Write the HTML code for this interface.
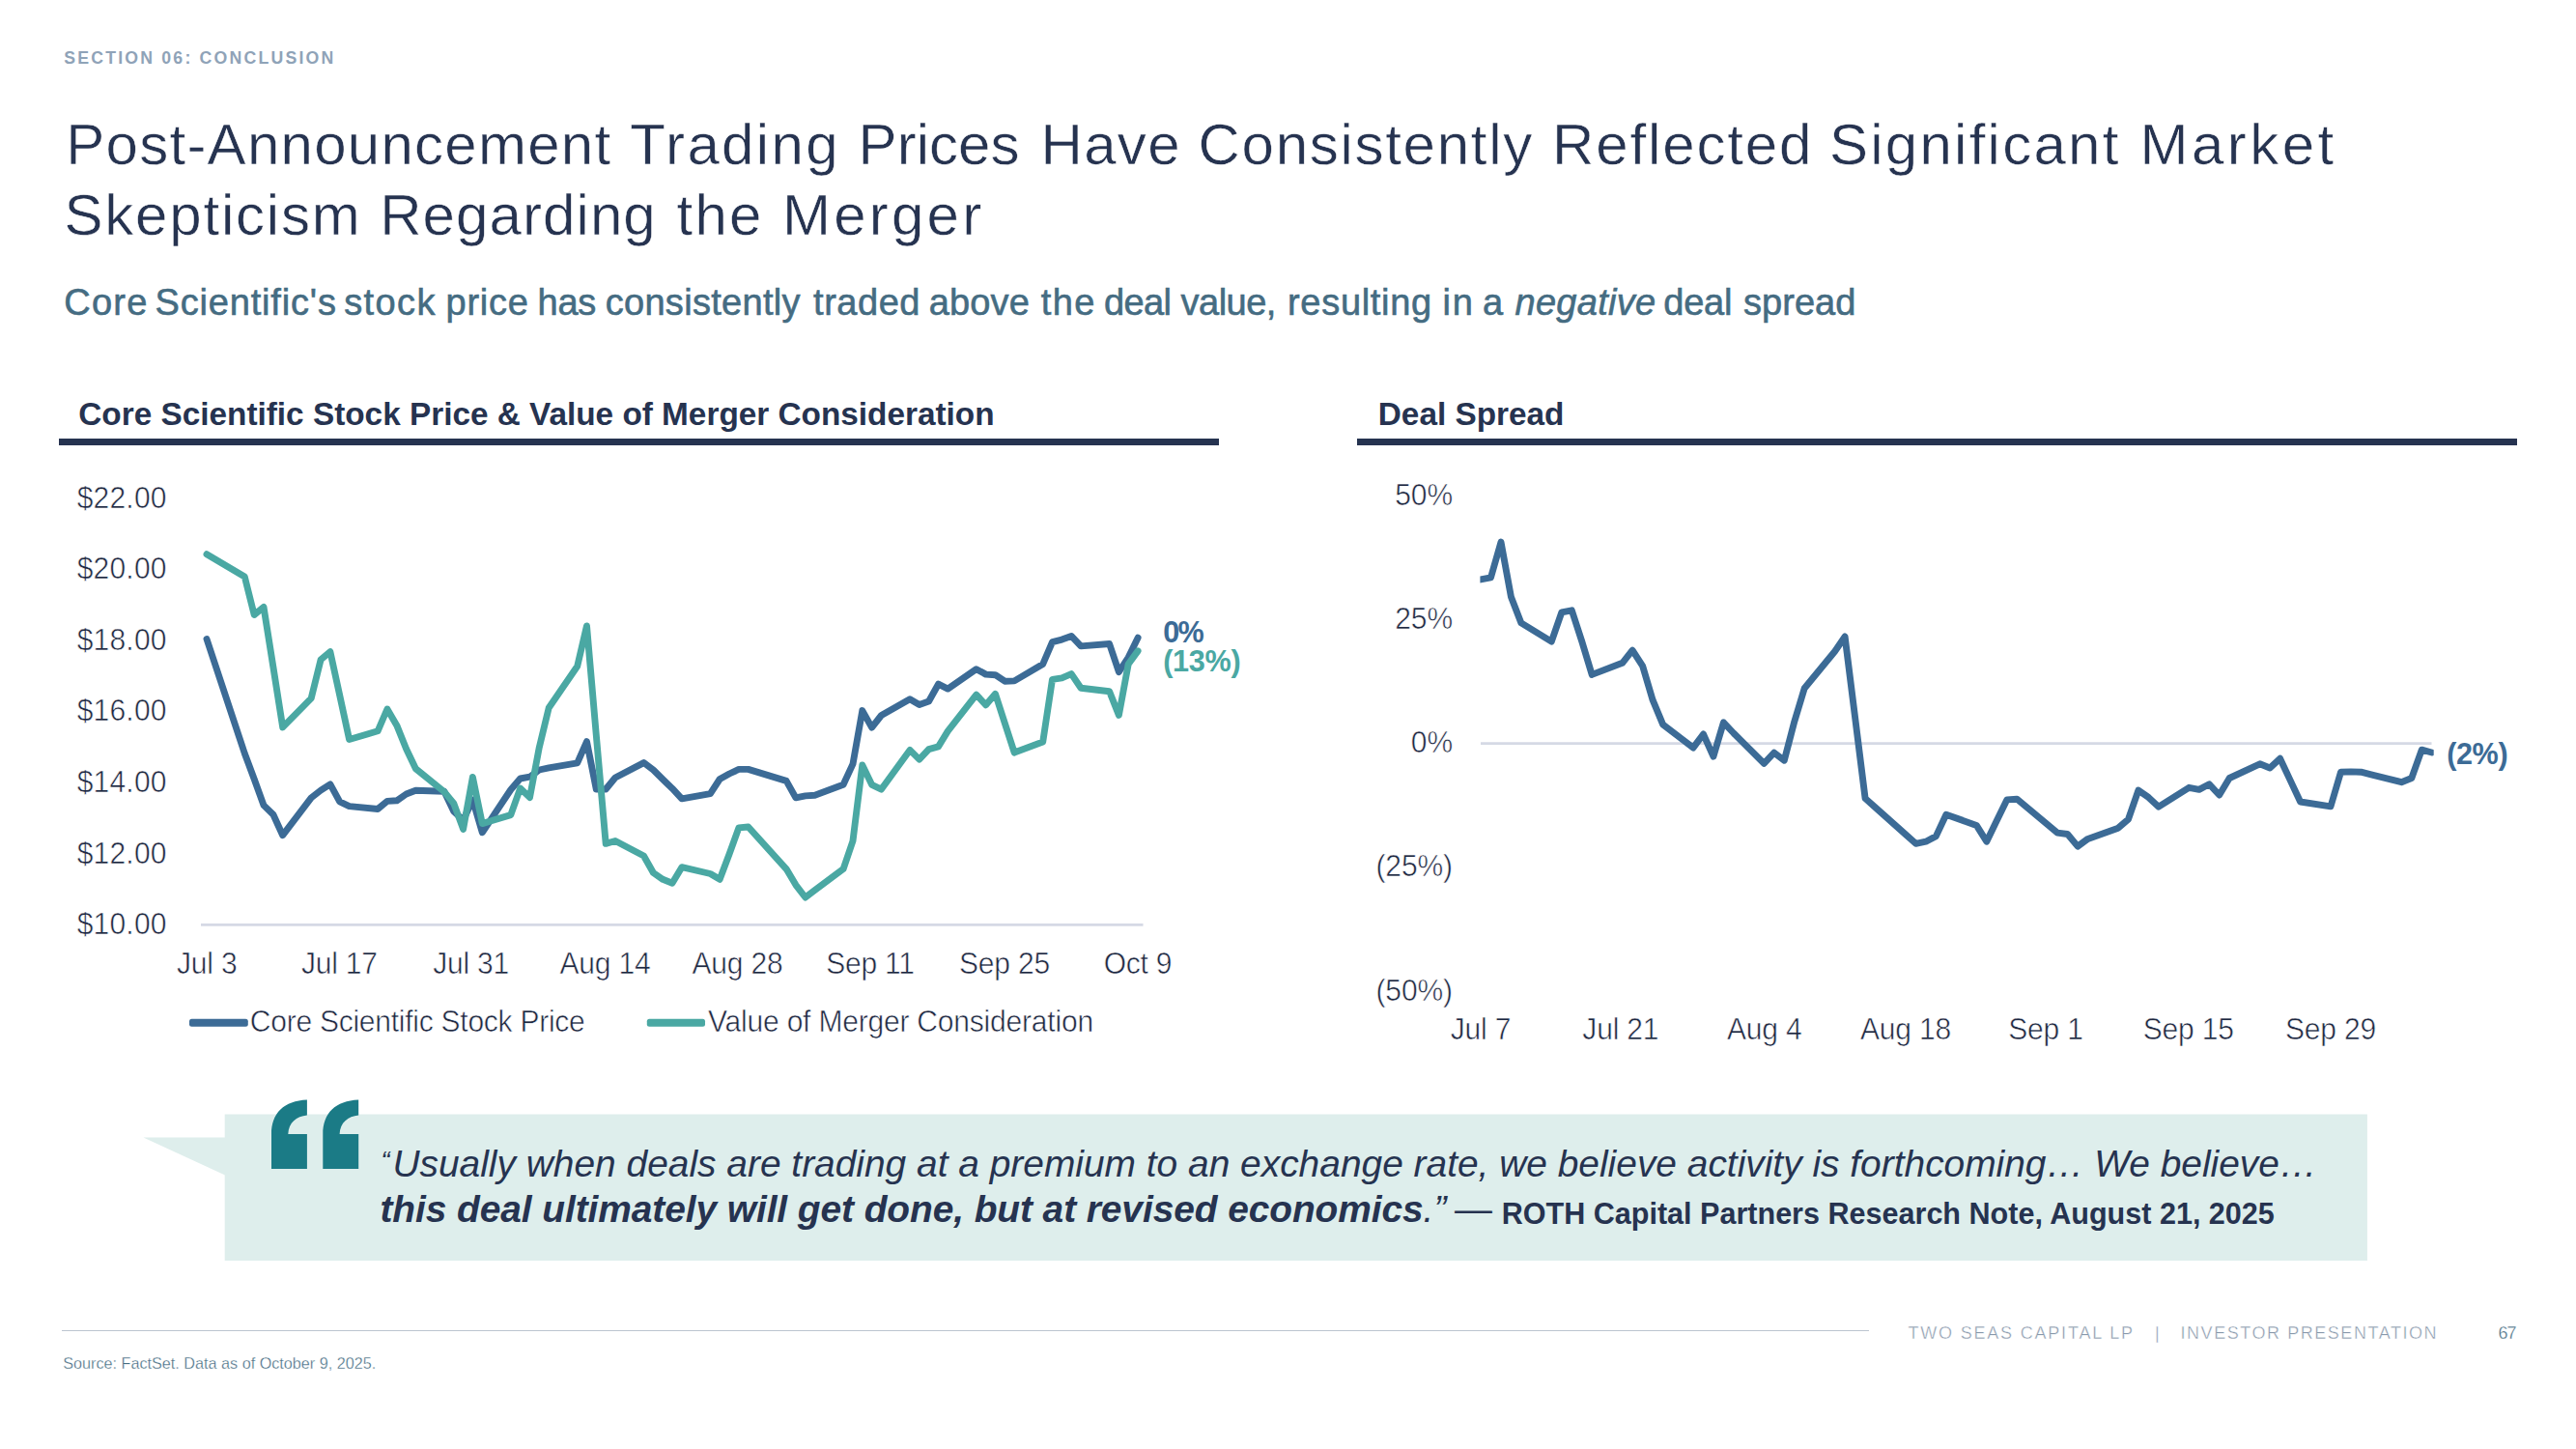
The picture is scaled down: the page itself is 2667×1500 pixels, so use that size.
<!DOCTYPE html><html lang="en"><head><meta charset="utf-8"><title>Slide</title><style>
html,body{margin:0;padding:0;background:#fff;}
html{width:2667px;height:1500px;overflow:hidden;}
body{width:2667px;height:1500px;position:relative;overflow:hidden;font-family:"Liberation Sans",sans-serif;color:#263350;}
.t{position:absolute;white-space:nowrap;line-height:1;}
.ax{color:#1e2841;-webkit-text-stroke:0.55px #fff;}
</style></head><body>
<div class="t " style="left:66.20px;top:51.72px;font-size:17.7px;font-weight:bold;letter-spacing:2.2px;color:#8fa3b8;">SECTION 06: CONCLUSION</div>
<div class="t " style="left:68.30px;top:120.21px;font-size:60px;letter-spacing:1.256px;-webkit-text-stroke:0.5px #fff;">Post-Announcement</div>
<div class="t " style="left:652.30px;top:120.21px;font-size:60px;letter-spacing:2.35px;-webkit-text-stroke:0.5px #fff;">Trading</div>
<div class="t " style="left:888.60px;top:120.21px;font-size:60px;letter-spacing:0.04px;-webkit-text-stroke:0.5px #fff;">Prices</div>
<div class="t " style="left:1077.50px;top:120.21px;font-size:60px;letter-spacing:1.333px;-webkit-text-stroke:0.5px #fff;">Have</div>
<div class="t " style="left:1240.50px;top:120.21px;font-size:60px;letter-spacing:1.718px;-webkit-text-stroke:0.5px #fff;">Consistently</div>
<div class="t " style="left:1607.00px;top:120.21px;font-size:60px;letter-spacing:1.875px;-webkit-text-stroke:0.5px #fff;">Reflected</div>
<div class="t " style="left:1893.90px;top:120.21px;font-size:60px;letter-spacing:2.27px;-webkit-text-stroke:0.5px #fff;">Significant</div>
<div class="t " style="left:2215.50px;top:120.21px;font-size:60px;letter-spacing:3.48px;-webkit-text-stroke:0.5px #fff;">Market</div>
<div class="t " style="left:66.50px;top:192.51px;font-size:60px;letter-spacing:1.8px;-webkit-text-stroke:0.5px #fff;">Skepticism</div>
<div class="t " style="left:393.20px;top:192.51px;font-size:60px;letter-spacing:1.087px;-webkit-text-stroke:0.5px #fff;">Regarding</div>
<div class="t " style="left:700.50px;top:192.51px;font-size:60px;letter-spacing:2.25px;-webkit-text-stroke:0.5px #fff;">the</div>
<div class="t " style="left:810.00px;top:192.51px;font-size:60px;letter-spacing:3.22px;-webkit-text-stroke:0.5px #fff;">Merger</div>
<div class="t " style="left:66.30px;top:294.13px;font-size:38px;letter-spacing:1.233px;color:#456c82;-webkit-text-stroke:0.6px #456c82;">Core</div>
<div class="t " style="left:160.50px;top:294.13px;font-size:38px;letter-spacing:0.827px;color:#456c82;-webkit-text-stroke:0.6px #456c82;">Scientific's</div>
<div class="t " style="left:356.20px;top:294.13px;font-size:38px;letter-spacing:1.375px;color:#456c82;-webkit-text-stroke:0.6px #456c82;">stock</div>
<div class="t " style="left:461.50px;top:294.13px;font-size:38px;letter-spacing:0.75px;color:#456c82;-webkit-text-stroke:0.6px #456c82;">price</div>
<div class="t " style="left:556.60px;top:294.13px;font-size:38px;letter-spacing:-0.3px;color:#456c82;-webkit-text-stroke:0.6px #456c82;">has</div>
<div class="t " style="left:626.70px;top:294.13px;font-size:38px;letter-spacing:0.3px;color:#456c82;-webkit-text-stroke:0.6px #456c82;">consistently</div>
<div class="t " style="left:842.10px;top:294.13px;font-size:38px;letter-spacing:0.52px;color:#456c82;-webkit-text-stroke:0.6px #456c82;">traded</div>
<div class="t " style="left:961.80px;top:294.13px;font-size:38px;letter-spacing:0.125px;color:#456c82;-webkit-text-stroke:0.6px #456c82;">above</div>
<div class="t " style="left:1077.80px;top:294.13px;font-size:38px;letter-spacing:1.4px;color:#456c82;-webkit-text-stroke:0.6px #456c82;">the</div>
<div class="t " style="left:1143.00px;top:294.13px;font-size:38px;letter-spacing:-0.667px;color:#456c82;-webkit-text-stroke:0.6px #456c82;">deal</div>
<div class="t " style="left:1222.50px;top:294.13px;font-size:38px;letter-spacing:-0.5px;color:#456c82;-webkit-text-stroke:0.6px #456c82;">value,</div>
<div class="t " style="left:1333.00px;top:294.13px;font-size:38px;letter-spacing:0.7px;color:#456c82;-webkit-text-stroke:0.6px #456c82;">resulting</div>
<div class="t " style="left:1493.50px;top:294.13px;font-size:38px;letter-spacing:1.7px;color:#456c82;-webkit-text-stroke:0.6px #456c82;">in</div>
<div class="t " style="left:1535.00px;top:294.13px;font-size:38px;letter-spacing:-0.5px;color:#456c82;-webkit-text-stroke:0.6px #456c82;">a</div>
<div class="t " style="left:1568.50px;top:294.13px;font-size:38px;letter-spacing:0.286px;color:#456c82;-webkit-text-stroke:0.6px #456c82;"><i>negative</i></div>
<div class="t " style="left:1722.20px;top:294.13px;font-size:38px;letter-spacing:-0.167px;color:#456c82;-webkit-text-stroke:0.6px #456c82;">deal</div>
<div class="t " style="left:1805.10px;top:294.13px;font-size:38px;letter-spacing:0.0px;color:#456c82;-webkit-text-stroke:0.6px #456c82;">spread</div>
<div class="t " style="left:81.30px;top:411.99px;font-size:33.33px;font-weight:bold;">Core Scientific Stock Price &amp; Value of Merger Consideration</div>
<div class="t " style="left:1426.80px;top:411.99px;font-size:33.33px;font-weight:bold;">Deal Spread</div>
<div style="position:absolute;left:61px;top:454px;width:1201px;height:6.8px;background:#263350"></div>
<div style="position:absolute;left:1405px;top:454px;width:1201px;height:6.8px;background:#263350"></div>
<div class="t ax" style="left:79.70px;top:501.31px;font-size:30px;letter-spacing:0.2px;transform:scaleY(1.07);transform-origin:50% 25.39px;">$22.00</div>
<div class="t ax" style="left:79.70px;top:574.28px;font-size:30px;letter-spacing:0.2px;transform:scaleY(1.07);transform-origin:50% 25.39px;">$20.00</div>
<div class="t ax" style="left:79.70px;top:647.86px;font-size:30px;letter-spacing:0.2px;transform:scaleY(1.07);transform-origin:50% 25.39px;">$18.00</div>
<div class="t ax" style="left:79.70px;top:721.44px;font-size:30px;letter-spacing:0.2px;transform:scaleY(1.07);transform-origin:50% 25.39px;">$16.00</div>
<div class="t ax" style="left:79.70px;top:795.02px;font-size:30px;letter-spacing:0.2px;transform:scaleY(1.07);transform-origin:50% 25.39px;">$14.00</div>
<div class="t ax" style="left:79.70px;top:868.60px;font-size:30px;letter-spacing:0.2px;transform:scaleY(1.07);transform-origin:50% 25.39px;">$12.00</div>
<div class="t ax" style="left:79.70px;top:942.18px;font-size:30px;letter-spacing:0.2px;transform:scaleY(1.07);transform-origin:50% 25.39px;">$10.00</div>
<div class="t ax" style="left:14.20px;width:400px;text-align:center;top:983.11px;font-size:30px;letter-spacing:-0.2px;transform:scaleY(1.07);transform-origin:50% 25.39px;">Jul 3</div>
<div class="t ax" style="left:151.40px;width:400px;text-align:center;top:983.11px;font-size:30px;letter-spacing:-0.2px;transform:scaleY(1.07);transform-origin:50% 25.39px;">Jul 17</div>
<div class="t ax" style="left:287.60px;width:400px;text-align:center;top:983.11px;font-size:30px;letter-spacing:-0.2px;transform:scaleY(1.07);transform-origin:50% 25.39px;">Jul 31</div>
<div class="t ax" style="left:426.50px;width:400px;text-align:center;top:983.11px;font-size:30px;letter-spacing:-0.2px;transform:scaleY(1.07);transform-origin:50% 25.39px;">Aug 14</div>
<div class="t ax" style="left:563.50px;width:400px;text-align:center;top:983.11px;font-size:30px;letter-spacing:-0.2px;transform:scaleY(1.07);transform-origin:50% 25.39px;">Aug 28</div>
<div class="t ax" style="left:701.00px;width:400px;text-align:center;top:983.11px;font-size:30px;letter-spacing:-0.2px;transform:scaleY(1.07);transform-origin:50% 25.39px;">Sep 11</div>
<div class="t ax" style="left:840.00px;width:400px;text-align:center;top:983.11px;font-size:30px;letter-spacing:-0.2px;transform:scaleY(1.07);transform-origin:50% 25.39px;">Sep 25</div>
<div class="t ax" style="left:978.00px;width:400px;text-align:center;top:983.11px;font-size:30px;letter-spacing:-0.2px;transform:scaleY(1.07);transform-origin:50% 25.39px;">Oct 9</div>
<div class="t ax" style="left:1204.00px;width:300px;text-align:right;top:498.11px;font-size:30px;letter-spacing:-0.1px;transform:scaleY(1.07);transform-origin:50% 25.39px;">50%</div>
<div class="t ax" style="left:1204.00px;width:300px;text-align:right;top:626.21px;font-size:30px;letter-spacing:-0.1px;transform:scaleY(1.07);transform-origin:50% 25.39px;">25%</div>
<div class="t ax" style="left:1204.00px;width:300px;text-align:right;top:754.31px;font-size:30px;letter-spacing:-0.1px;transform:scaleY(1.07);transform-origin:50% 25.39px;">0%</div>
<div class="t ax" style="left:1204.00px;width:300px;text-align:right;top:882.40px;font-size:30px;letter-spacing:-0.1px;transform:scaleY(1.07);transform-origin:50% 25.39px;">(25%)</div>
<div class="t ax" style="left:1204.00px;width:300px;text-align:right;top:1010.50px;font-size:30px;letter-spacing:-0.1px;transform:scaleY(1.07);transform-origin:50% 25.39px;">(50%)</div>
<div class="t ax" style="left:1333.00px;width:400px;text-align:center;top:1050.70px;font-size:30px;letter-spacing:-0.2px;transform:scaleY(1.07);transform-origin:50% 25.39px;">Jul 7</div>
<div class="t ax" style="left:1477.80px;width:400px;text-align:center;top:1050.70px;font-size:30px;letter-spacing:-0.2px;transform:scaleY(1.07);transform-origin:50% 25.39px;">Jul 21</div>
<div class="t ax" style="left:1626.70px;width:400px;text-align:center;top:1050.70px;font-size:30px;letter-spacing:-0.2px;transform:scaleY(1.07);transform-origin:50% 25.39px;">Aug 4</div>
<div class="t ax" style="left:1773.00px;width:400px;text-align:center;top:1050.70px;font-size:30px;letter-spacing:-0.2px;transform:scaleY(1.07);transform-origin:50% 25.39px;">Aug 18</div>
<div class="t ax" style="left:1918.00px;width:400px;text-align:center;top:1050.70px;font-size:30px;letter-spacing:-0.2px;transform:scaleY(1.07);transform-origin:50% 25.39px;">Sep 1</div>
<div class="t ax" style="left:2065.70px;width:400px;text-align:center;top:1050.70px;font-size:30px;letter-spacing:-0.2px;transform:scaleY(1.07);transform-origin:50% 25.39px;">Sep 15</div>
<div class="t ax" style="left:2213.00px;width:400px;text-align:center;top:1050.70px;font-size:30px;letter-spacing:-0.2px;transform:scaleY(1.07);transform-origin:50% 25.39px;">Sep 29</div>
<svg style="position:absolute;left:0;top:0" width="2667" height="1500" viewBox="0 0 2667 1500">
<line x1="208" y1="957.4" x2="1183.5" y2="957.4" stroke="#d5d9e5" stroke-width="2.8"/>
<line x1="1533" y1="769.6" x2="2517.5" y2="769.6" stroke="#d5d9e5" stroke-width="2.8"/>
<polyline fill="none" stroke="#3c6b96" stroke-width="6.9" stroke-linejoin="round" stroke-linecap="round" points="214.0,661.5 253.3,780.0 263.2,806.5 273.0,833.6 282.9,843.3 292.7,864.7 322.2,825.9 332.1,818.1 341.9,811.9 351.7,829.8 361.6,834.6 391.1,837.5 400.9,829.4 410.8,828.8 420.6,822.0 430.4,818.2 459.9,819.2 469.8,840.0 479.6,849.0 489.4,828.0 499.3,861.8 528.8,817.5 538.6,806.0 548.5,804.2 558.3,797.0 568.2,794.8 597.7,789.8 607.5,767.6 617.3,817.0 627.2,817.0 637.0,805.0 666.5,789.6 676.4,797.0 686.2,806.7 696.0,816.2 705.9,826.8 735.4,821.6 745.2,806.5 755.1,801.0 764.9,796.4 774.7,796.4 814.1,808.4 823.9,825.9 833.8,823.9 843.6,823.3 873.1,812.3 883.0,790.9 892.8,735.6 902.6,753.1 912.5,740.5 942.0,723.8 951.8,729.5 961.6,726.0 971.5,708.2 981.3,713.1 1010.8,692.7 1020.7,698.1 1030.5,698.7 1040.3,705.2 1050.2,704.9 1079.7,687.5 1089.5,664.6 1099.4,662.1 1109.2,658.4 1119.1,668.9 1148.6,666.5 1158.4,695.7 1168.2,680.5 1178.1,660.2"/>
<polyline fill="none" stroke="#4aa8a3" stroke-width="6.9" stroke-linejoin="round" stroke-linecap="round" points="214.0,573.7 253.3,597.0 263.2,636.5 273.0,628.4 282.9,690.6 292.7,752.9 322.2,722.8 332.1,682.8 341.9,674.7 351.7,719.7 361.6,765.5 391.1,756.8 400.9,734.0 410.8,750.9 420.6,775.2 430.4,795.8 459.9,819.6 469.8,831.7 479.6,858.4 489.4,804.4 499.3,852.6 528.8,843.6 538.6,816.1 548.5,825.6 558.3,773.7 568.2,732.8 597.7,689.8 607.5,647.9 617.3,761.0 627.2,873.4 637.0,870.5 666.5,886.0 676.4,903.5 686.2,910.3 696.0,914.2 705.9,897.7 735.4,904.5 745.2,910.3 755.1,884.0 764.9,856.9 774.7,856.0 814.1,899.6 823.9,916.1 833.8,929.0 843.6,921.6 873.1,899.6 883.0,870.5 892.8,791.9 902.6,812.3 912.5,817.1 942.0,776.4 951.8,786.1 961.6,775.6 971.5,772.9 981.3,756.9 1010.8,719.2 1020.7,729.8 1030.5,718.3 1040.3,748.6 1050.2,779.1 1079.7,768.1 1089.5,703.3 1099.4,701.9 1109.2,697.6 1119.1,712.3 1148.6,715.8 1158.4,740.4 1168.2,687.5 1178.1,673.9"/>
<clipPath id="cr"><rect x="1532.4" y="480" width="987.3" height="560"/></clipPath>
<polyline clip-path="url(#cr)" fill="none" stroke="#3c6b96" stroke-width="6.9" stroke-linejoin="round" stroke-linecap="round" points="1533.0,599.9 1543.5,597.9 1554.0,561.1 1564.4,617.7 1574.9,644.9 1606.3,664.1 1616.8,633.8 1627.3,631.8 1637.8,664.1 1648.2,698.4 1679.7,686.3 1690.1,673.2 1700.6,689.3 1711.1,724.7 1721.6,749.9 1753.0,774.1 1763.5,760.0 1773.9,783.2 1784.4,747.9 1794.9,759.0 1826.3,790.3 1836.8,779.2 1847.3,787.2 1857.8,746.9 1868.2,712.5 1899.7,674.2 1910.1,659.0 1920.6,742.6 1931.1,826.5 1941.6,835.8 1973.0,863.9 1983.5,873.3 1993.9,871.2 2004.4,865.6 2014.9,843.2 2046.3,854.4 2056.8,871.2 2067.3,849.5 2077.8,827.9 2088.2,827.2 2130.1,862.1 2140.6,863.5 2151.1,876.1 2161.6,868.4 2193.0,857.2 2203.5,848.1 2213.9,818.1 2224.4,825.4 2234.9,835.2 2266.3,815.3 2276.8,817.4 2287.3,811.8 2297.7,823.0 2308.2,805.5 2339.7,790.8 2350.1,795.0 2360.6,785.2 2371.1,807.6 2381.6,830.0 2413.0,834.9 2423.5,799.2 2433.9,798.9 2444.4,799.2 2454.9,801.8 2486.3,809.7 2496.8,805.5 2507.3,776.2 2517.7,779.0"/>
<rect x="196" y="1054.8" width="60.8" height="8" rx="2.5" fill="#3c6b96"/>
<rect x="669.8" y="1054.8" width="60.2" height="8" rx="2.5" fill="#4aa8a3"/>
<polygon points="148.4,1177.6 233,1177.6 233,1216.6" fill="#deeeec"/>
<rect x="232.7" y="1153.5" width="2218.2" height="151.5" fill="#deeeec"/>
<g fill="#1b7b86">
<path d="M281.0,1210 V1174 C281.0,1152.5 294.0,1139.5 317.9,1138.6 V1154.5 C306.9,1155.5 298.9,1162 298.29999999999995,1174 H317.9 V1210 Z"/>
<path d="M334.3,1210 V1174 C334.3,1152.5 347.3,1139.5 371.2,1138.6 V1154.5 C360.2,1155.5 352.2,1162 351.59999999999997,1174 H371.2 V1210 Z"/>
</g>
</svg>
<div class="t ax" style="left:258.80px;top:1043.31px;font-size:30px;letter-spacing:-0.25px;transform:scaleY(1.07);transform-origin:50% 25.39px;">Core Scientific Stock Price</div>
<div class="t ax" style="left:733.00px;top:1043.31px;font-size:30px;letter-spacing:-0.2px;transform:scaleY(1.07);transform-origin:50% 25.39px;">Value of Merger Consideration</div>
<div class="t " style="left:1204.20px;top:638.90px;font-size:30.6px;letter-spacing:-1.6px;font-weight:bold;color:#3c6b96;">0%</div>
<div class="t " style="left:1204.20px;top:669.30px;font-size:30.6px;letter-spacing:-0.3px;font-weight:bold;color:#4aa8a3;">(13%)</div>
<div class="t " style="left:2533.20px;top:764.70px;font-size:30.6px;letter-spacing:-0.4px;font-weight:bold;color:#3c6b96;">(2%)</div>
<div class="t " style="left:394.50px;top:1189.14px;font-size:27px;"><i>&ldquo;</i></div>
<div class="t " style="left:406.45px;top:1186.37px;font-size:38.9px;"><i>Usually when deals are trading at a premium to an exchange rate, we believe activity is forthcoming&hellip; We believe&hellip;</i></div>
<div class="t " style="left:393.50px;top:1233.47px;font-size:38.9px;"><i><b style="letter-spacing:-0.08px">this deal ultimately will get done, but at revised economics</b>.&rdquo;</i></div>
<div class="t " style="left:1506.00px;top:1233.47px;font-size:38.9px;">&mdash;</div>
<div class="t " style="left:1554.70px;top:1240.53px;font-size:30.56px;"><b>ROTH Capital Partners Research Note, August 21, 2025</b></div>
<div style="position:absolute;left:64px;top:1376.9px;width:1871.4px;height:1.2px;background:#bcc5d0"></div>
<div class="t " style="left:65.30px;top:1402.99px;font-size:16.2px;color:#456c82;-webkit-text-stroke:0.3px #fff;">Source: FactSet. Data as of October 9, 2025.</div>
<div class="t " style="left:1975.50px;top:1371.06px;font-size:18px;letter-spacing:1.8px;color:#8898ab;-webkit-text-stroke:0.4px #fff;">TWO SEAS CAPITAL LP</div>
<div class="t " style="left:2231.00px;top:1371.06px;font-size:18px;color:#8898ab;-webkit-text-stroke:0.4px #fff;">|</div>
<div class="t " style="left:2257.50px;top:1371.06px;font-size:18px;letter-spacing:1.55px;color:#8898ab;-webkit-text-stroke:0.4px #fff;">INVESTOR PRESENTATION</div>
<div class="t " style="left:2586.50px;top:1371.06px;font-size:18px;letter-spacing:-1px;color:#456c82;-webkit-text-stroke:0.3px #fff;">67</div>
</body></html>
